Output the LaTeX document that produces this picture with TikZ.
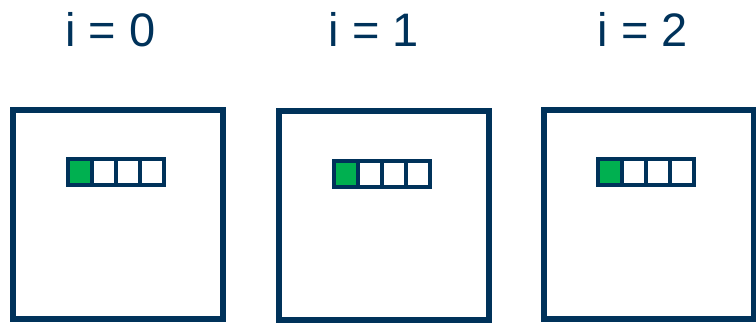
\documentclass[tikz,border=0pt]{standalone}
\usepackage{fontspec}
\setmainfont{Liberation Sans}
\definecolor{winNavy}{RGB}{0,50,90}
\definecolor{winGreen}{RGB}{0,176,80}
\tikzset{
  winBox/.style={draw=winNavy, line width=6pt, fill=white, inner sep=0pt,
                 minimum width=210pt, minimum height=209pt},
  cellBox/.style={draw=winNavy, line width=4pt, fill=#1, inner sep=0pt,
                  minimum width=24pt, minimum height=26pt},
  cellBox/.default=white,
  stepLabel/.style={text=winNavy, anchor=base, inner sep=0pt,
                    font=\fontsize{47}{50}\selectfont}
}

\begin{document}
\begin{tikzpicture}[x=1pt, y=1pt]
  \useasboundingbox (0,0) rectangle (756,-322);
  \foreach \i/\bx/\by/\cx/\cy/\lx in {0/118/-214.5/80/-172/110.5,
                                     1/384/-215.5/346/-174/374,
                                     2/649/-214.5/610/-172/643} {
    \node[stepLabel] (lbl\i) at (\lx,-46) {i = \i};
    \node[winBox] (win\i) at (\bx,\by) {};
    \node[cellBox=winGreen] (cell\i-0) at (\cx,\cy) {};
    \foreach \j in {1,2,3}
      \node[cellBox] (cell\i-\j) at ({\cx+24*\j},\cy) {};
  }
\end{tikzpicture}
\end{document}
